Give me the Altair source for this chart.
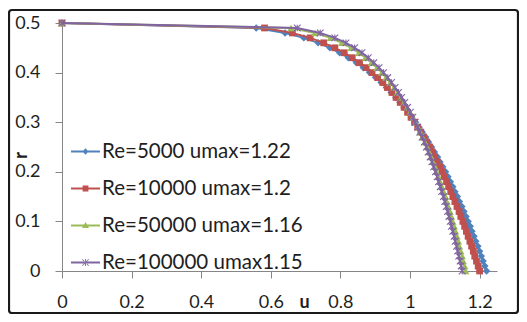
import altair as alt
import pandas as pd

# radial position r (wall at 0.5, centre at 0)
r_vals = [0.50, 0.49, 0.48, 0.47, 0.46, 0.45, 0.44, 0.43, 0.42, 0.41,
          0.40, 0.39, 0.38, 0.37, 0.36, 0.35, 0.34, 0.33, 0.32, 0.31,
          0.30, 0.29, 0.28, 0.27, 0.26, 0.25, 0.24, 0.23, 0.22, 0.21,
          0.20, 0.19, 0.18, 0.17, 0.16, 0.15, 0.14, 0.13, 0.12, 0.11,
          0.10, 0.09, 0.08, 0.07, 0.06, 0.05, 0.04, 0.03, 0.02, 0.01, 0.00]

u_re5000 = [0.000, 0.558, 0.641, 0.695, 0.736, 0.770, 0.798, 0.823, 0.846, 0.866,
            0.884, 0.901, 0.917, 0.932, 0.946, 0.959, 0.971, 0.983, 0.995, 1.005,
            1.016, 1.026, 1.035, 1.045, 1.053, 1.062, 1.070, 1.079, 1.086, 1.094,
            1.102, 1.109, 1.116, 1.123, 1.129, 1.136, 1.142, 1.149, 1.155, 1.161,
            1.167, 1.173, 1.178, 1.184, 1.189, 1.195, 1.200, 1.205, 1.210, 1.215, 1.220]

u_re10000 = [0.000, 0.582, 0.662, 0.713, 0.752, 0.784, 0.811, 0.834, 0.855, 0.874,
             0.891, 0.907, 0.922, 0.935, 0.948, 0.960, 0.972, 0.983, 0.993, 1.003,
             1.013, 1.022, 1.031, 1.039, 1.048, 1.056, 1.063, 1.071, 1.078, 1.085,
             1.092, 1.098, 1.105, 1.111, 1.117, 1.123, 1.129, 1.135, 1.141, 1.146,
             1.152, 1.157, 1.162, 1.167, 1.172, 1.177, 1.182, 1.186, 1.191, 1.196, 1.200]

u_re50000 = [0.000, 0.658, 0.727, 0.771, 0.804, 0.831, 0.853, 0.872, 0.889, 0.905,
             0.919, 0.931, 0.943, 0.954, 0.964, 0.974, 0.983, 0.992, 1.000, 1.008,
             1.016, 1.023, 1.030, 1.036, 1.043, 1.049, 1.055, 1.061, 1.066, 1.072,
             1.077, 1.082, 1.087, 1.092, 1.097, 1.102, 1.106, 1.110, 1.115, 1.119,
             1.123, 1.127, 1.131, 1.135, 1.139, 1.142, 1.146, 1.150, 1.153, 1.157, 1.160]

u_re100000 = [0.000, 0.676, 0.742, 0.784, 0.816, 0.841, 0.862, 0.880, 0.896, 0.911,
              0.924, 0.936, 0.947, 0.957, 0.967, 0.976, 0.985, 0.993, 1.001, 1.008,
              1.015, 1.022, 1.028, 1.035, 1.041, 1.047, 1.052, 1.058, 1.063, 1.068,
              1.073, 1.078, 1.082, 1.087, 1.091, 1.096, 1.100, 1.104, 1.108, 1.112,
              1.116, 1.119, 1.123, 1.127, 1.130, 1.134, 1.137, 1.140, 1.144, 1.147, 1.150]

series_names = ["Re=5000 umax=1.22", "Re=10000 umax=1.2",
                "Re=50000 umax=1.16", "Re=100000 umax1.15"]
series_colors = ["#4F81BD", "#C0504D", "#9BBB59", "#8064A2"]
x_ticks = [0, 0.2, 0.4, 0.6, 0.8, 1.0, 1.2]
y_ticks = [0, 0.1, 0.2, 0.3, 0.4, 0.5]

FONT = "Lato"
TXT = "#1e1e1e"
AXC = "#868686"

rows = []
for name, us in zip(series_names, [u_re5000, u_re10000, u_re50000, u_re100000]):
    for i, (r, u) in enumerate(zip(r_vals, us)):
        rows.append({"series": name, "i": i, "r": r, "u": u})
df = pd.DataFrame(rows)

xscale = alt.Scale(domain=[0, 1.25], nice=False, zero=False)
yscale = alt.Scale(domain=[0, 0.5], nice=False)

X = alt.X("u:Q", scale=xscale, axis=alt.Axis(
    values=x_ticks, format=".1~f", grid=False, domainColor=AXC, tickColor=AXC,
    tickSize=7, labelFont=FONT, labelFontSize=18, labelColor=TXT, labelPadding=15,
    labelFlush=False, labelOverlap=False,
    title="u", titleFont=FONT, titleFontSize=18, titleFontWeight="bold", titleColor=TXT,
    titleX=242, titleY=36, titleAlign="center", titleBaseline="alphabetic", titleAngle=0))
Y = alt.Y("r:Q", scale=yscale, axis=alt.Axis(
    values=y_ticks, format=".1~f", grid=False, domainColor=AXC, tickColor=AXC,
    tickSize=7, labelFont=FONT, labelFontSize=18, labelColor=TXT, labelPadding=15,
    labelFlush=False, labelOverlap=False,
    title="r", titleFont=FONT, titleFontSize=18, titleFontWeight="bold", titleColor=TXT,
    titleX=-36, titleY=132, titleAlign="center", titleBaseline="alphabetic", titleAngle=270))

base = alt.Chart(df)

marker_shapes = ["diamond", "square", "triangle-up", "M-1,-1L1,1M-1,1L1,-1M0,-1L0,1"]
marker_sizes = [56, 46, 56, 44]
marker_filled = [True, True, True, False]

layers = []
frame = alt.Chart(pd.DataFrame({"k": [0]})).mark_rect(
    fillOpacity=0, stroke="#1a1a1a", strokeWidth=2.2, cornerRadius=3
).encode(x=alt.value(-53), x2=alt.value(456), y=alt.value(-13), y2=alt.value(290))
layers.append(frame)

for name, col, shp, sz, fl in zip(series_names, series_colors, marker_shapes,
                                  marker_sizes, marker_filled):
    sub = base.transform_filter(alt.datum.series == name)
    line = sub.mark_line(strokeWidth=2, color=col).encode(x=X, y=Y, order="i:Q")
    if fl:
        pts = sub.mark_point(shape=shp, size=sz, filled=True, color=col,
                             opacity=1, strokeWidth=0)
    else:
        pts = sub.mark_point(shape=shp, size=sz, filled=False, color=col,
                             opacity=1, strokeWidth=1.1)
    layers.append(line)
    layers.append(pts.encode(x=X, y=Y))

legend_paths = [
    "M-1,-0.07H1V0.07H-1Z M0,-0.22L0.2,0L0,0.22L-0.2,0Z",
    "M-1,-0.07H1V0.07H-1Z M-0.2,-0.2H0.2V0.2H-0.2Z",
    "M-1,-0.07H1V0.07H-1Z M0,-0.24L0.24,0.18L-0.24,0.18Z",
    "M-1,-0.07H1V0.07H-1Z M-0.24,-0.2L0.2,0.24L0.24,0.2L-0.2,-0.24Z "
    "M-0.24,0.2L0.2,-0.24L0.24,-0.2L-0.2,0.24Z M-0.03,-0.24H0.03V0.24H-0.03Z",
]

leg = alt.Legend(orient="none", legendX=9, legendY=114, title=None, padding=0,
                 labelFont=FONT, labelFontSize=20.5, labelColor=TXT, labelLimit=400,
                 symbolSize=841, symbolStrokeWidth=0, symbolOpacity=1,
                 rowPadding=12, labelOffset=2, symbolOffset=0)

legend_layer = base.transform_filter(alt.datum.r < -1).mark_point(filled=True).encode(
    x=X, y=Y,
    color=alt.Color("series:N", scale=alt.Scale(domain=series_names, range=series_colors),
                    legend=leg),
    shape=alt.Shape("series:N", scale=alt.Scale(domain=series_names, range=legend_paths),
                    legend=leg),
)
layers.append(legend_layer)

chart = alt.layer(*layers).properties(
    width=435, height=248,
    padding={"left": 54, "top": 15, "right": 22, "bottom": 43},
    autosize=alt.AutoSizeParams(type="none"),
    background="white",
).configure_view(stroke=None)

chart.save("out.html", embed_options={"renderer": "svg", "actions": False})
